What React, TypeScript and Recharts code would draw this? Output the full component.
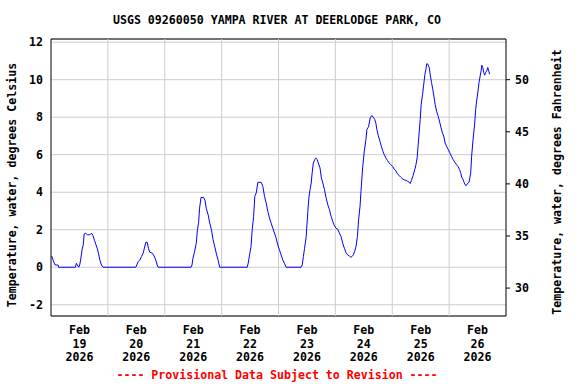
import React from 'react';
import { ComposedChart, Line, XAxis, YAxis, CartesianGrid, ReferenceLine, ReferenceArea } from 'recharts';

// hours since Feb 19 2026 00:00
const hours = [
  0.3, 1.0, 1.7, 3.0, 3.2, 10.3, 10.7, 11.1, 11.7, 12.1, 12.5, 13.1, 13.6, 14.0, 14.6, 15.3, 16.4, 17.1, 17.7, 18.4, 19.0, 19.5, 20.1, 20.6, 21.3, 22.0,
  35.8, 36.2, 36.8, 37.5, 38.2, 38.9, 39.4, 40.0, 40.6, 41.1, 41.7, 42.8, 43.5, 44.2, 44.8, 45.2,
  59.1, 59.5, 59.9, 60.6, 61.3, 61.8, 62.3, 62.7, 63.3, 64.4, 65.0, 65.5, 66.3, 67.0, 67.7, 68.4, 69.1, 69.8, 70.5, 71.2,
  82.8, 83.2, 83.8, 84.4, 84.9, 85.5, 86.0, 86.6, 87.3, 88.7, 89.4, 90.1, 90.8, 91.5, 92.2, 92.9, 93.6, 94.3, 95.0, 95.7, 96.4, 97.1, 97.8, 98.5, 99.2,
  105.5, 106.0, 106.5, 107.0, 107.7, 107.9, 108.4, 108.8, 109.3, 109.8,
  110.2, 110.7, 111.3, 111.7, 112.3, 112.8, 113.5, 114.1, 114.7, 115.4,
  116.1, 116.8, 117.5, 118.2, 118.9, 119.6, 120.3, 121.0, 121.7, 122.4,
  123.1, 123.8, 124.5, 125.2, 125.9, 126.6, 127.0, 127.6, 128.1, 128.7,
  129.3, 129.8, 130.4, 130.8, 131.5, 132.2, 132.9, 133.3, 134.0, 134.7,
  135.4, 136.0, 136.6, 137.1, 137.5, 138.1, 138.8, 139.4, 139.9, 140.6,
  141.3, 142.0, 142.7, 143.4, 144.1, 144.8, 145.5, 146.2, 146.9, 147.6,
  148.4, 149.0, 149.8, 150.5, 151.2, 151.6, 152.1, 152.8, 153.5, 154.0,
  154.5, 154.9, 155.4, 155.8, 156.2, 156.8, 157.2, 157.8, 158.2, 158.6,
  159.0, 159.6, 160.1, 160.6, 161.1, 161.7, 162.1, 162.7, 163.4, 164.1,
  164.6, 165.2, 165.8, 166.3, 166.9, 167.6, 168.3, 169.0, 169.7, 170.4,
  171.1, 171.7, 172.4, 172.9, 173.3, 173.9, 174.3, 174.7, 175.2, 175.7,
  176.4, 177.1, 177.5, 178.1, 178.7, 179.2, 179.6, 180.2, 180.6, 181.1,
  181.5, 181.8, 182.2, 182.6, 183.0, 183.4, 183.9, 184.3, 184.7, 185.1,
];

const tempC = [
  0.60, 0.34, 0.12, 0.12, 0, 0, 0.21, 0.12, 0, 0.12, 0.39, 0.93, 1.19, 1.78, 1.82, 1.73, 1.73, 1.82, 1.69, 1.42, 1.19, 1.01, 0.71, 0.39, 0.12, 0,
  0, 0.12, 0.30, 0.39, 0.57, 0.75, 1.01, 1.33, 1.33, 1.01, 0.80, 0.75, 0.60, 0.39, 0.12, 0,
  0, 0.12, 0.48, 0.84, 1.28, 2.0, 2.39, 3.15, 3.72, 3.72, 3.55, 3.15, 2.80, 2.35, 2.0, 1.46, 1.10, 0.71, 0.39, 0,
  0, 0.21, 0.66, 1.10, 2.0, 2.71, 3.78, 3.96, 4.53, 4.53, 4.31, 3.78, 3.42, 2.98, 2.62, 2.35, 2.08, 1.82, 1.55, 1.19, 0.93, 0.66, 0.39, 0.21, 0,
  0, 0.12, 0.57, 1.01, 1.64, 2.08, 2.98, 3.69, 4.14, 4.49,
  5.03, 5.56, 5.74, 5.83, 5.74, 5.56, 5.30, 4.76, 4.49, 4.14,
  3.69, 3.33, 3.07, 2.71, 2.44, 2.21, 2.08, 2.03, 1.82, 1.64,
  1.28, 1.01, 0.78, 0.66, 0.60, 0.53, 0.57, 0.66, 0.84, 1.10,
  1.64, 2.53, 3.24, 4.05, 5.30, 6.19, 6.81, 7.35, 7.49, 7.97,
  8.09, 8.0, 7.88, 7.67, 7.35, 7.02, 6.72, 6.45, 6.24, 6.01,
  5.83, 5.69, 5.56, 5.47, 5.38, 5.24, 5.14, 4.99, 4.89, 4.80,
  4.71, 4.67, 4.63, 4.58, 4.53, 4.46, 4.63, 4.89, 5.21, 5.47,
  5.83, 6.45, 7.26, 7.88, 8.68, 9.22, 9.66, 10.29, 10.56, 10.86,
  10.83, 10.65, 10.20, 9.84, 9.48, 9.03, 8.68, 8.32, 8.05, 7.70,
  7.43, 7.16, 6.95, 6.63, 6.45, 6.28, 6.10, 5.92, 5.74, 5.60,
  5.47, 5.38, 5.21, 5.03, 4.80, 4.67, 4.53, 4.40, 4.35, 4.46,
  4.53, 5.03, 5.92, 6.81, 7.53, 8.41, 8.86, 9.40, 9.84, 10.20,
  10.47, 10.77, 10.65, 10.38, 10.24, 10.38, 10.47, 10.65, 10.47, 10.29,
];

const dayTicks = [12, 36, 60, 84, 108, 132, 156, 180];
const dayLabels = ['19', '20', '21', '22', '23', '24', '25', '26'];
const monthLabel = 'Feb';
const yearLabel = '2026';
const midnights = [24, 48, 72, 96, 120, 144, 168];
const celsiusTicks = [-2, 0, 2, 4, 6, 8, 10, 12];
const fahrenheitTicks = [30, 35, 40, 45, 50];
const cDomain = [-2.6, 12.17];
const xDomain = [0, 192];

const title = 'USGS 09260050 YAMPA RIVER AT DEERLODGE PARK, CO';
const leftTitle = 'Temperature, water, degrees Celsius';
const rightTitle = 'Temperature, water, degrees Fahrenheit';
const footer = '---- Provisional Data Subject to Revision ----';

const data = hours.map((h, i) => ({ h, c: tempC[i] }));
const fDomain = [cDomain[0] * 1.8 + 32, cDomain[1] * 1.8 + 32];

const FONT = "'DejaVu Sans Mono', 'Liberation Mono', monospace";
const FS = 11.6;

const XTick = (props: any) => {
  const { x, y, payload } = props;
  const i = dayTicks.indexOf(payload.value);
  return (
    <text x={x} textAnchor="middle" fontFamily={FONT} fontSize={FS} fontWeight="bold" fill="#000">
      <tspan x={x} y={y + 18}>{monthLabel}</tspan>
      <tspan x={x} y={y + 31.5}>{dayLabels[i]}</tspan>
      <tspan x={x} y={y + 44.5}>{yearLabel}</tspan>
    </text>
  );
};

const LeftLabel = () => (
  <text x={11.5} y={185} transform="rotate(-90 11.5 185)" textAnchor="middle" dominantBaseline="central"
    fontFamily={FONT} fontSize={FS} fontWeight="bold" fill="#000">{leftTitle}</text>
);
const RightLabel = () => (
  <text x={556.5} y={182} transform="rotate(-90 556.5 182)" textAnchor="middle" dominantBaseline="central"
    fontFamily={FONT} fontSize={FS} fontWeight="bold" fill="#000">{rightTitle}</text>
);

const tickStyle = { fontFamily: FONT, fontSize: FS, fontWeight: 'bold', fill: '#000' } as any;

export default function App() {
  return (
    <div style={{ position: 'absolute', left: 0, top: 0, width: 576, height: 384, background: '#fff' }}>
      <div style={{ position: 'absolute', left: -11, top: 12, width: 576, textAlign: 'center', fontFamily: FONT, fontSize: FS, fontWeight: 'bold', lineHeight: '16px', color: '#000', whiteSpace: 'pre' }}>{title}</div>
      <div style={{ position: 'absolute', left: -11, top: 367, width: 576, textAlign: 'center', fontFamily: FONT, fontSize: FS, fontWeight: 'bold', lineHeight: '16px', color: '#ff0000', whiteSpace: 'pre' }}>{footer}</div>
      <ComposedChart width={576} height={384} data={data} margin={{ top: 39, right: 0, bottom: 0, left: 0 }}>
        <CartesianGrid vertical={false} stroke="#cccccc" />
        {midnights.map((m) => (
          <ReferenceLine key={m} x={m} stroke="#cccccc" strokeWidth={1} />
        ))}
        <XAxis dataKey="h" type="number" domain={xDomain} ticks={dayTicks} interval={0} allowDataOverflow
          height={68} tickLine={false} axisLine={false} tickSize={0} tickMargin={0} tick={<XTick />} />
        <YAxis domain={cDomain} ticks={celsiusTicks} allowDataOverflow width={51} axisLine={false}
          tickLine={false} tickSize={0} tickMargin={8} tick={tickStyle} interval={0}
          label={<LeftLabel />} />
        <YAxis yAxisId="f" orientation="right" domain={fDomain} ticks={fahrenheitTicks} allowDataOverflow width={70}
          axisLine={false} tickLine={{ stroke: '#000' }} tickSize={4} tickMargin={5} tick={tickStyle} interval={0}
          label={<RightLabel />} />
        <Line dataKey="c" type="linear" stroke="#0000ff" strokeWidth={1} dot={false} activeDot={false} isAnimationActive={false} />
        <ReferenceArea x1={xDomain[0]} x2={xDomain[1]} y1={cDomain[0]} y2={cDomain[1]} fill="none" fillOpacity={0} stroke="#000" strokeWidth={1} ifOverflow="visible" />
      </ComposedChart>
    </div>
  );
}
